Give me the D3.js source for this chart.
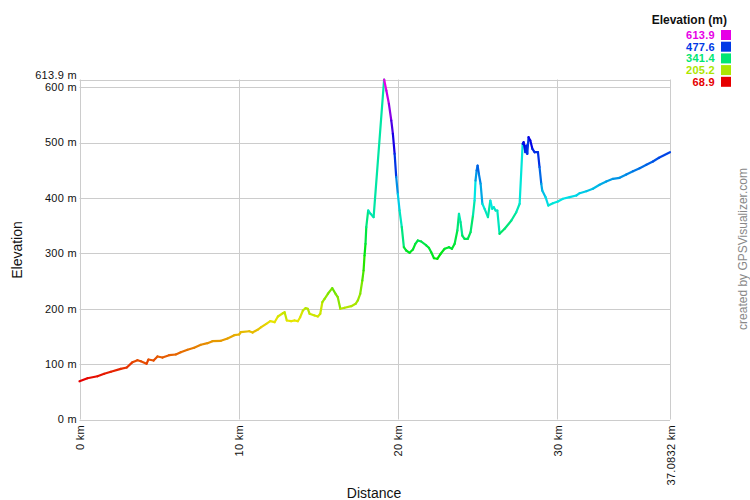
<!DOCTYPE html>
<html>
<head>
<meta charset="utf-8">
<script src="https://cdn.jsdelivr.net/npm/d3@7"></script>
<style>
  html, body { margin: 0; padding: 0; background: #fff; }
  svg { display: block; font-family: "Liberation Sans", Arial, sans-serif; }
</style>
</head>
<body>
<svg id="chart" width="750" height="500"></svg>
<script>
// ---- data ----
const distKm = [0.00,0.50,1.13,1.55,1.97,2.59,2.97,3.33,3.64,3.85,4.21,4.33,4.65,4.90,5.21,5.63,6.05,6.36,6.78,7.20,7.62,8.04,8.35,8.88,9.30,9.72,10.03,10.13,10.66,10.87,11.18,11.41,11.73,11.98,12.25,12.46,12.77,12.88,13.02,13.30,13.50,13.71,13.86,14.03,14.20,14.34,14.45,14.76,14.97,15.12,15.25,15.39,15.60,15.87,16.08,16.22,16.38,16.65,17.07,17.34,17.48,17.63,17.76,17.84,17.90,17.96,18.01,18.13,18.28,18.47,19.13,19.27,19.43,19.58,19.68,19.79,19.89,19.99,20.10,20.24,20.37,20.52,20.73,20.94,21.09,21.25,21.46,21.78,21.94,22.09,22.26,22.47,22.68,22.93,23.20,23.39,23.56,23.73,23.83,23.93,24.04,24.18,24.39,24.56,24.71,24.81,24.87,24.94,25.00,25.08,25.19,25.30,25.44,25.65,25.80,25.92,26.02,26.13,26.24,26.38,26.70,27.12,27.43,27.64,27.83,27.89,28.00,28.06,28.12,28.20,28.31,28.44,28.58,28.79,28.89,29.00,29.06,29.27,29.44,29.73,30.04,30.36,30.78,31.20,31.41,31.83,32.24,32.66,33.08,33.50,33.92,34.34,34.76,35.18,35.60,36.01,36.39,37.0832];
const elevM = [68.9,74.5,78.1,82.5,86.1,91.5,93.9,103.5,107.1,105.3,100.6,108.3,106.5,113.8,111.9,116.1,117.4,121.5,125.9,129.5,134.9,137.8,141.4,142.1,146.3,152.2,153.5,157.6,159.4,157.1,162.0,166.7,172.8,177.5,175.7,186.0,191.9,193.7,178.8,177.5,178.8,177.5,184.7,196.8,201.0,199.9,190.9,187.8,186.0,190.9,211.8,217.9,227.0,237.1,227.0,220.8,199.9,201.7,204.6,208.9,214.9,227.0,251.0,269.0,296.1,317.2,347.2,377.4,371.4,365.3,613.9,594.0,570.0,539.9,515.9,479.7,437.5,407.5,377.4,347.2,311.1,305.1,301.0,307.0,317.2,323.2,321.4,314.2,310.0,302.1,291.2,290.2,299.2,308.2,311.1,308.2,317.2,341.3,371.4,356.3,332.2,326.3,326.3,338.2,368.3,395.4,431.5,449.6,458.6,443.6,425.6,389.5,380.4,365.3,395.4,380.4,383.3,377.4,377.4,335.3,344.3,359.3,374.3,389.5,497.8,500.7,482.6,494.7,479.7,509.7,503.8,488.8,482.6,482.6,455.6,425.6,413.5,401.4,386.4,390.6,393.6,398.5,401.4,404.5,408.6,412.2,416.6,423.8,429.7,434.6,436.4,442.4,448.3,453.8,459.9,465.8,472.5,482.7];
const legendValues = [613.9, 477.6, 341.4, 205.2, 68.9];
const yTickValues = [0, 100, 200, 300, 400, 500, 600];
const xTickValues = [0, 10, 20, 30];
const xMaxKm = 37.0832;
const yMaxM = 613.9;
const yMinM = 68.9;

// ---- scales ----
const svg = d3.select("#chart");
const x = d3.scaleLinear().domain([0, xMaxKm]).range([79.5, 670]);
const y = d3.scaleLinear().domain([0, yMaxM]).range([419.5, 79.5]);
const hue = d3.scaleLinear().domain([yMinM, yMaxM]).range([0, 300]).clamp(true);
const colorOf = v => d3.hsl(hue(v), 1, 0.45).formatHex();
const grid = "#cccccc";

// gridlines
svg.append("g").selectAll("line").data(yTickValues).join("line")
  .attr("x1", x(0)).attr("x2", x(xMaxKm))
  .attr("y1", d => Math.round(y(d)) + 0.5).attr("y2", d => Math.round(y(d)) + 0.5)
  .attr("stroke", grid).attr("stroke-width", 1);
svg.append("g").selectAll("line").data(xTickValues.concat([xMaxKm])).join("line")
  .attr("x1", d => Math.round(x(d)) + 0.5).attr("x2", d => Math.round(x(d)) + 0.5)
  .attr("y1", y(yMaxM)).attr("y2", y(0))
  .attr("stroke", grid).attr("stroke-width", 1);
// top border
svg.append("line")
  .attr("x1", x(0)).attr("x2", x(xMaxKm))
  .attr("y1", Math.round(y(yMaxM)) + 0.5).attr("y2", Math.round(y(yMaxM)) + 0.5)
  .attr("stroke", grid);

// profile line, each segment colored by the elevation of its start point
const pts = distKm.map((d, i) => [d, elevM[i]]);
const segs = d3.pairs(pts);
svg.append("g").selectAll("line").data(segs).join("line")
  .attr("x1", d => x(d[0][0])).attr("y1", d => y(d[0][1]))
  .attr("x2", d => x(d[1][0])).attr("y2", d => y(d[1][1]))
  .attr("stroke", d => colorOf(d[0][1]))
  .attr("stroke-width", 2.2)
  .attr("stroke-linecap", "round");

// y labels
const yl = svg.append("g").attr("font-size", 11).attr("fill", "#111").attr("letter-spacing", 0.3);
yl.selectAll("text").data(yTickValues).join("text")
  .attr("x", 77).attr("y", d => y(d)).attr("dy", "0.35em")
  .attr("text-anchor", "end").text(d => d + " m");
yl.append("text").attr("x", 77).attr("y", y(yMaxM) - 1)
  .attr("text-anchor", "end").text(yMaxM + " m");

// x labels
const xl = svg.append("g").attr("font-size", 11).attr("fill", "#111").attr("letter-spacing", 0.3);
xl.selectAll("text").data(xTickValues.concat([xMaxKm])).join("text")
  .attr("transform", d => `translate(${x(d) + 4.5},425) rotate(-90)`)
  .attr("text-anchor", "end").text(d => d + " km");

// axis titles
svg.append("text").attr("transform", "translate(22,250) rotate(-90)")
  .attr("text-anchor", "middle").attr("font-size", 14).attr("fill", "#111").text("Elevation");
svg.append("text").attr("x", 374).attr("y", 498)
  .attr("text-anchor", "middle").attr("font-size", 14).attr("fill", "#111").text("Distance");

// legend
svg.append("text").attr("x", 727).attr("y", 24).attr("text-anchor", "end")
  .attr("font-size", 12).attr("font-weight", "bold").attr("fill", "#111").text("Elevation (m)");
const lg = svg.append("g").selectAll("g").data(legendValues).join("g")
  .attr("transform", (d, i) => `translate(0,${30 + i * 11.7})`);
lg.append("rect").attr("x", 721).attr("y", 0).attr("width", 10).attr("height", 10)
  .attr("fill", d => colorOf(d));
lg.append("text").attr("x", 715).attr("y", 9).attr("text-anchor", "end")
  .attr("font-size", 11).attr("font-weight", "bold").attr("letter-spacing", 0.3)
  .attr("fill", d => colorOf(d)).text(d => d.toFixed(1));

// watermark
svg.append("text").attr("transform", "translate(747,249) rotate(-90)")
  .attr("text-anchor", "middle").attr("font-size", 12).attr("fill", "#888")
  .text("created by GPSVisualizer.com");
</script>
</body>
</html>
